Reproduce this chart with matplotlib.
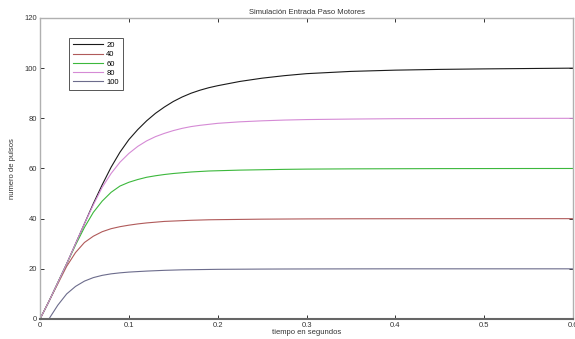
import matplotlib
matplotlib.use("Agg")
from matplotlib import pyplot as plt

# tiempo (s) y respuesta
t = [0, 0.01, 0.02, 0.03, 0.04, 0.05, 0.06, 0.07, 0.08, 0.09, 0.1,
     0.11, 0.12, 0.13, 0.14, 0.15, 0.16, 0.17, 0.18, 0.19, 0.2,
     0.225, 0.25, 0.275, 0.3, 0.35, 0.4, 0.45, 0.5, 0.55, 0.6]

y100 = [0, 7, 14.5, 22, 30, 38, 46, 53.5, 60.5, 66.5, 71.5,
        75.5, 79, 82, 84.5, 86.7, 88.5, 90, 91.2, 92.2, 93,
        94.7, 96, 97, 97.8, 98.7, 99.2, 99.5, 99.7, 99.85, 100]
y80 = [0, 7, 14.5, 22, 30, 38, 45.5, 52.5, 58, 62.5, 66,
       68.8, 71, 72.7, 74, 75.1, 76, 76.7, 77.2, 77.6, 78,
       78.6, 79, 79.3, 79.5, 79.7, 79.85, 79.9, 79.95, 79.98, 80]
y60 = [0, 7, 14.5, 22, 29.5, 36.5, 42.5, 47, 50.5, 53, 54.5,
       55.6, 56.5, 57.1, 57.6, 58, 58.3, 58.6, 58.8, 59, 59.1,
       59.35, 59.5, 59.65, 59.75, 59.85, 59.9, 59.95, 59.97, 59.99, 60]
y40 = [0, 7, 14, 21, 26.5, 30.5, 33, 34.8, 36, 36.8, 37.4,
       37.9, 38.3, 38.6, 38.9, 39.05, 39.2, 39.35, 39.45, 39.55, 39.6,
       39.7, 39.8, 39.85, 39.9, 39.95, 39.97, 39.98, 40, 40, 40]
y20 = [0, 0, 5.5, 10, 13, 15.1, 16.5, 17.4, 18, 18.4, 18.7,
       18.9, 19.1, 19.25, 19.4, 19.5, 19.6, 19.65, 19.7, 19.75, 19.8,
       19.85, 19.9, 19.93, 19.95, 19.98, 20, 20, 20, 20, 20]

# orden y etiquetas como en la leyenda original
series = [y100, y40, y60, y80, y20]
labels = ['20', '40', '60', '80', '100']
colores = ['#1a1a1a', '#b05a5a', '#3cb83c', '#d58ad5', '#6c6c8c']

plt.rcParams['font.family'] = ['Liberation Sans', 'DejaVu Sans']

fig = plt.figure(figsize=(5.75, 3.39), dpi=100)
ax = fig.add_axes([0.0696, 0.059, 0.927, 0.888])

for y, lab, c in zip(series, labels, colores):
    ax.plot(t, y, color=c, linewidth=0.8, label=lab)

ax.set_xlim(0, 0.6)
ax.set_ylim(0, 120)
ax.set_xticks([0, 0.1, 0.2, 0.3, 0.4, 0.5, 0.6])
ax.set_xticklabels(['0', '0.1', '0.2', '0.3', '0.4', '0.5', '0.6'])
ax.set_yticks([0, 20, 40, 60, 80, 100, 120])
ax.tick_params(direction='in', length=3, width=0.7, labelsize=5.5,
               top=True, right=True, pad=2, colors='#333333')

for s in ['left', 'top', 'right']:
    ax.spines[s].set_color('#b0b0b0')
    ax.spines[s].set_linewidth(1.0)
ax.spines['bottom'].set_color('#666666')
ax.spines['bottom'].set_linewidth(1.5)

ax.set_title('Simulación Entrada Paso Motores', fontsize=5.5, pad=3, color='#333333')
ax.set_xlabel('tiempo en segundos', fontsize=5.5, labelpad=0, color='#333333')
ax.set_ylabel('numero de pulsos', fontsize=5.5, labelpad=6, color='#333333')

leg = ax.legend(loc='upper left', bbox_to_anchor=(0.054, 0.934), borderaxespad=0,
                fontsize=5.5, fancybox=False, framealpha=1, handlelength=4,
                handletextpad=0.4, labelspacing=0.25, borderpad=0.5)
leg.get_frame().set_edgecolor('#555555')
leg.get_frame().set_linewidth(0.7)

fig.savefig('out.png', dpi=100)
